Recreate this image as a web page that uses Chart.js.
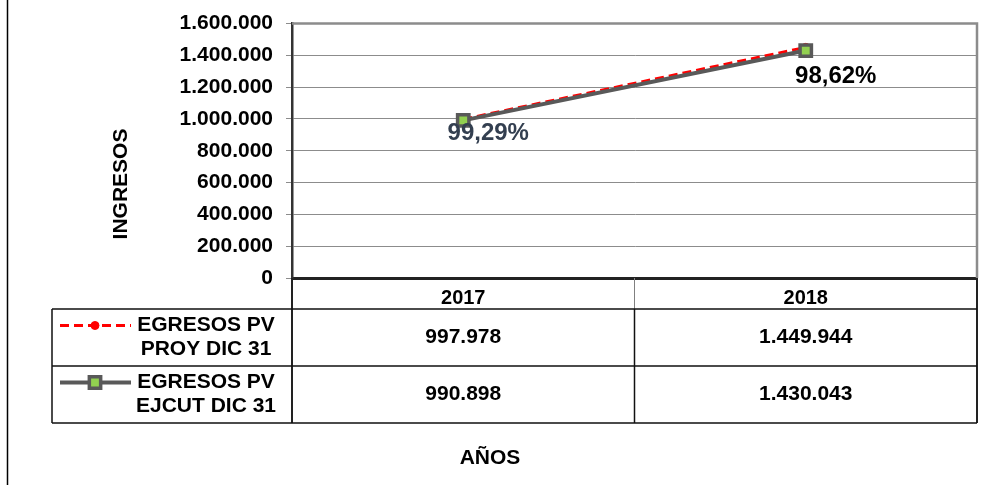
<!DOCTYPE html>
<html>
<head>
<meta charset="utf-8">
<script src="https://cdn.jsdelivr.net/npm/chart.js@4"></script>
<style>
html, body { margin: 0; padding: 0; background: #fff; }
</style>
</head>
<body>
<canvas id="egresosChart" width="1000" height="485"></canvas>
<script>
// data
const years = ['2017', '2018'];
const proyValues = [997978, 1449944];
const ejcutValues = [990898, 1430043];
const proyName = ['EGRESOS PV', 'PROY DIC 31'];
const ejcutName = ['EGRESOS PV', 'EJCUT DIC 31'];
const pctLabels = ['99,29%', '98,62%'];
const yMax = 1600000;
const yStep = 200000;

Chart.defaults.font.family = "'Liberation Sans', Arial, sans-serif";
Chart.defaults.font.weight = 'bold';
Chart.defaults.color = '#000';

function fmt(v) {
    return String(v).replace(/\B(?=(\d{3})+(?!\d))/g, '.');
}

const TABLE_LEFT = 52;
const HEADER_BOTTOM = 309;
const ROW_H = 57;

// draws the data table under the plot, borders, titles and percent labels
const tablePlugin = {
    id: 'dataTable',
    afterDraw(chart) {
        const ctx = chart.ctx;
        const area = chart.chartArea;
        const x = chart.scales.x;
        const rows = [
            {name: proyName, values: proyValues, meta: chart.getDatasetMeta(1)},
            {name: ejcutName, values: ejcutValues, meta: chart.getDatasetMeta(0)}
        ];
        const splitX = (x.getPixelForValue(0) + x.getPixelForValue(1)) / 2;

        ctx.save();

        // outer chart border (left side only shows)
        ctx.strokeStyle = '#000';
        ctx.lineWidth = 1.5;
        ctx.beginPath();
        ctx.moveTo(7.5, 0);
        ctx.lineTo(7.5, 485);
        ctx.stroke();

        // plot area top/right border
        ctx.strokeStyle = '#8c8c8c';
        ctx.lineWidth = 2.5;
        ctx.beginPath();
        ctx.moveTo(area.left, area.top);
        ctx.lineTo(area.right, area.top);
        ctx.lineTo(area.right, area.bottom);
        ctx.stroke();

        // header row verticals
        ctx.strokeStyle = '#808080';
        ctx.lineWidth = 1;
        ctx.beginPath();
        ctx.moveTo(splitX, area.bottom);
        ctx.lineTo(splitX, HEADER_BOTTOM);
        ctx.stroke();
        ctx.strokeStyle = '#222';
        ctx.lineWidth = 2;
        ctx.beginPath();
        ctx.moveTo(area.left, area.bottom);
        ctx.lineTo(area.left, HEADER_BOTTOM + ROW_H * 2);
        ctx.moveTo(area.right, area.bottom);
        ctx.lineTo(area.right, HEADER_BOTTOM + ROW_H * 2);
        ctx.stroke();

        // table grid
        ctx.strokeStyle = '#111';
        ctx.lineWidth = 1.5;
        ctx.beginPath();
        ctx.moveTo(TABLE_LEFT, HEADER_BOTTOM);
        ctx.lineTo(area.right, HEADER_BOTTOM);
        for (let r = 1; r <= rows.length; r++) {
            ctx.moveTo(TABLE_LEFT, HEADER_BOTTOM + ROW_H * r);
            ctx.lineTo(area.right, HEADER_BOTTOM + ROW_H * r);
        }
        ctx.moveTo(TABLE_LEFT, HEADER_BOTTOM);
        ctx.lineTo(TABLE_LEFT, HEADER_BOTTOM + ROW_H * rows.length);
        ctx.moveTo(splitX, HEADER_BOTTOM);
        ctx.lineTo(splitX, HEADER_BOTTOM + ROW_H * rows.length);
        ctx.stroke();

        // rows
        ctx.textAlign = 'center';
        ctx.textBaseline = 'middle';
        rows.forEach((row, r) => {
            const cy = HEADER_BOTTOM + ROW_H * r + ROW_H / 2;
            const ds = row.meta.controller.getDataset();

            // legend key
            ctx.save();
            ctx.strokeStyle = ds.borderColor;
            ctx.lineWidth = ds.borderWidth;
            ctx.setLineDash(ds.borderDash || []);
            ctx.beginPath();
            ctx.moveTo(60, cy - 12);
            ctx.lineTo(131, cy - 12);
            ctx.stroke();
            ctx.restore();
            ctx.save();
            ctx.fillStyle = ds.pointBackgroundColor;
            ctx.strokeStyle = ds.pointBorderColor;
            ctx.lineWidth = ds.pointBorderWidth;
            Chart.helpers.drawPoint(ctx, {
                pointStyle: ds.pointStyle,
                radius: ds.pointRadius,
                borderWidth: ds.pointBorderWidth,
                rotation: 0
            }, 95, cy - 12);
            ctx.restore();

            ctx.fillStyle = '#000';
            ctx.font = "bold 21px 'Liberation Sans', Arial, sans-serif";
            ctx.fillText(row.name[0], 206, cy - 12);
            ctx.fillText(row.name[1], 206, cy + 12);

            row.values.forEach((v, i) => {
                ctx.fillText(fmt(v), x.getPixelForValue(i), cy);
            });
        });

        // percent labels next to the executed series
        const ejMeta = chart.getDatasetMeta(0);
        const pctOffsets = [[25, 13], [30, 26]];
        const pctColors = ['#333f50', '#000'];
        ctx.font = "bold 24px 'Liberation Sans', Arial, sans-serif";
        pctLabels.forEach((t, i) => {
            const p = ejMeta.data[i];
            ctx.fillStyle = pctColors[i];
            ctx.fillText(t, p.x + pctOffsets[i][0], p.y + pctOffsets[i][1]);
        });

        // axis titles
        ctx.fillStyle = '#000';
        ctx.font = "bold 21px 'Liberation Sans', Arial, sans-serif";
        ctx.fillText('AÑOS', 490, 458);
        ctx.translate(121, 184);
        ctx.rotate(-Math.PI / 2);
        ctx.fillText('INGRESOS', 0, 0);

        ctx.restore();
    }
};

const config = {
    type: 'line',
    data: {
        labels: years,
        datasets: [{
            label: ejcutName.join(' '),
            data: ejcutValues,
            order: 0,
            borderColor: '#595959',
            borderWidth: 4,
            pointStyle: 'rect',
            pointRadius: 8,
            pointBackgroundColor: '#92d050',
            pointBorderColor: '#595959',
            pointBorderWidth: 3.5
        }, {
            label: proyName.join(' '),
            data: proyValues,
            order: 1,
            borderColor: '#ff0000',
            borderWidth: 3,
            borderDash: [9, 5],
            pointStyle: 'circle',
            pointRadius: 4,
            pointBackgroundColor: '#ff0000',
            pointBorderColor: '#ff0000',
            pointBorderWidth: 1
        }]
    },
    options: {
        responsive: false,
        animation: false,
        devicePixelRatio: 1,
        layout: {
            padding: {left: 0, right: 23, top: 22, bottom: 0}
        },
        plugins: {
            legend: {display: false},
            tooltip: {enabled: false}
        },
        scales: {
            x: {
                type: 'category',
                offset: true,
                grid: {display: false, drawTicks: false},
                border: {display: true, color: '#222', width: 3},
                ticks: {
                    padding: 8,
                    font: {size: 20, weight: 'bold'},
                    color: '#000'
                },
                afterFit: (s) => { s.height = 485 - 278; }
            },
            y: {
                min: 0,
                max: yMax,
                grid: {color: '#8c8c8c', lineWidth: 1, tickLength: 6},
                border: {display: true, color: '#333', width: 2.5},
                ticks: {
                    stepSize: yStep,
                    padding: 13,
                    font: {size: 21, weight: 'bold', lineHeight: 1},
                    color: '#000',
                    callback: (v) => fmt(v)
                },
                afterFit: (s) => { s.width = 292; }
            }
        }
    },
    plugins: [tablePlugin]
};

new Chart(document.getElementById('egresosChart'), config);
</script>
</body>
</html>
